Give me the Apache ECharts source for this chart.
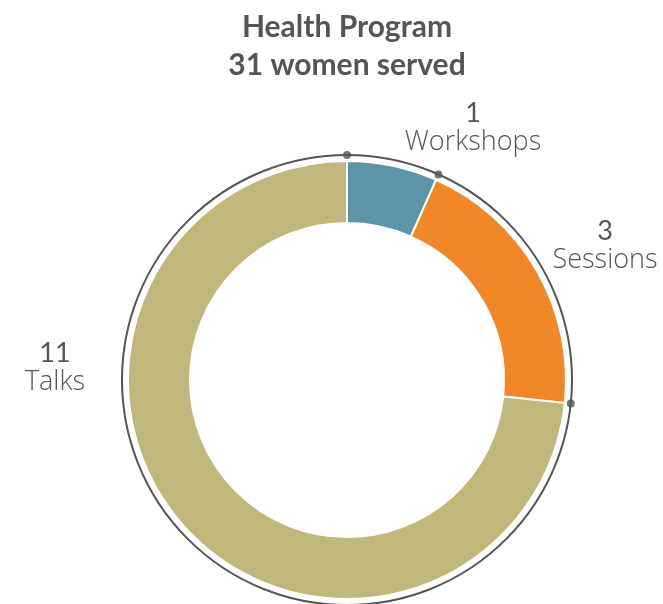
<!DOCTYPE html>
<html lang="en">
<head>
    <meta charset="UTF-8">
    <title>Health Program</title>
    <script src="https://cdn.jsdelivr.net/npm/echarts@6/dist/echarts.min.js"></script>
</head>
<body style="margin:0">
<div id="chart" style="width: 663px;height:604px;"></div>
<script>
    let categories = ['Workshops', 'Sessions', 'Talks']
    let values = [1, 3, 11]
    let colors = ['#5e94a8', '#f28727', '#c0b77a']
    let titleLines = ['Health Program', '31 women served']

    let total = values.reduce((a, b) => a + b, 0)
    // boundary dots sit at the cumulative sums
    let bounds = []
    let acc = 0
    for (let i = 0; i < values.length; i++) {
        bounds.push(acc)
        acc += values[i]
    }

    // where each label goes (px)
    let labelPos = [[473, 128], [605, 246], [55, 368]]

    let chart = echarts.init(document.getElementById('chart'));

    let option = {
        title: {
            text: titleLines.join('\n'),
            // centred over the donut, not the page (title padding is 5)
            left: 342,
            textAlign: 'center',
            top: 3,
            textStyle: {
                fontFamily: 'Lato',
                fontWeight: 'bold',
                fontSize: 30,
                lineHeight: 38,
                color: '#555'
            }
        },
        polar: {
            center: [347, 380],
            radius: 225
        },
        angleAxis: {
            type: 'value',
            min: 0,
            max: total,
            startAngle: 90,
            clockwise: true,
            axisLine: {show: true, lineStyle: {color: '#555', width: 2}},
            axisTick: {show: false},
            axisLabel: {show: false},
            splitLine: {show: false}
        },
        radiusAxis: {
            min: 0,
            max: 1,
            show: false
        },
        series: [{
            type: 'pie',
            center: [347, 380],
            radius: [157, 219],
            startAngle: 90,
            clockwise: true,
            silent: true,
            data: categories.map((c, i) => ({
                name: c,
                value: values[i],
                itemStyle: {color: colors[i]}
            })),
            itemStyle: {borderColor: '#fff', borderWidth: 2},
            labelLine: {show: false},
            label: {
                show: true,
                position: 'outside',
                overflow: 'none',
                formatter: '{v|{c}}\n{n|{b}}',
                align: 'center',
                rich: {
                    v: {fontFamily: 'Lato', fontSize: 27, lineHeight: 29, color: '#555', align: 'center'},
                    n: {fontFamily: 'Open Sans', fontWeight: 300, fontSize: 27, lineHeight: 29, color: '#555', align: 'center'}
                }
            },
            labelLayout: function (params) {
                let p = labelPos[params.dataIndex]
                return {x: p[0], y: p[1], align: 'center', verticalAlign: 'middle', width: 200}
            }
        }, {
            type: 'scatter',
            coordinateSystem: 'polar',
            symbolSize: 8,
            silent: true,
            itemStyle: {color: '#555'},
            data: bounds.map(b => [1, b])
        }]
    };
    chart.setOption(option);
</script>
</body>
</html>
